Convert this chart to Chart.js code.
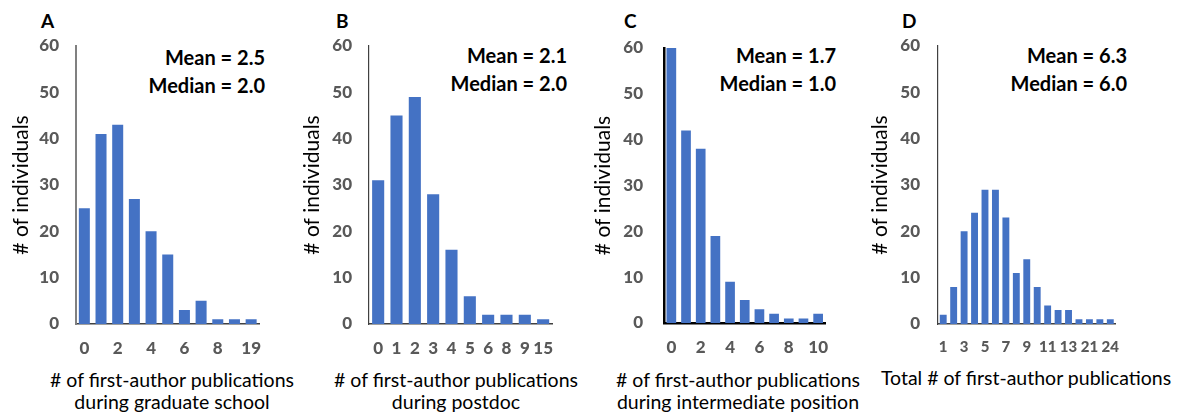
<!DOCTYPE html>
<html>
<head>
<meta charset="utf-8">
<script src="https://cdn.jsdelivr.net/npm/chart.js@4.4.1/dist/chart.umd.min.js"></script>
<style>
  body { margin: 0; width: 1178px; height: 415px; background: #fff; position: relative; overflow: hidden; font-family: Lato, sans-serif; }
  canvas { position: absolute; top: 0; }
  .letter { position: absolute; font-weight: bold; font-size: 19px; line-height: 20px; color: #000; }
  .stats { position: absolute; font-weight: bold; font-size: 20px; line-height: 28px; color: #000; text-align: right; white-space: nowrap; }
  .xtitle { position: absolute; font-size: 19.5px; line-height: 22px; color: #000; text-align: center; white-space: nowrap; transform: translateX(-50%); }
</style>
</head>
<body>

<div class="letter" style="left:41px;top:11px">A</div>
<div class="letter" style="left:336px;top:11px">B</div>
<div class="letter" style="left:624px;top:11px">C</div>
<div class="letter" style="left:902px;top:11px">D</div>

<div class="stats" style="right:913px;top:43px">Mean = 2.5<br>Median = 2.0</div>
<div class="stats" style="right:611px;top:41px">Mean = 2.1<br>Median = 2.0</div>
<div class="stats" style="right:342px;top:41px">Mean = 1.7<br>Median = 1.0</div>
<div class="stats" style="right:51px;top:41px">Mean = 6.3<br>Median = 6.0</div>

<div class="xtitle" style="left:172px;top:369px"># of first-author publications<br>during graduate school</div>
<div class="xtitle" style="left:456px;top:369px"># of first-author publications<br>during postdoc</div>
<div class="xtitle" style="left:738px;top:369px"># of first-author publications<br>during intermediate position</div>
<div class="xtitle" style="left:1026px;top:367px">Total # of first-author publications</div>

<canvas id="cA"></canvas>
<canvas id="cB"></canvas>
<canvas id="cC"></canvas>
<canvas id="cD"></canvas>

<script>
// publication counts (category labels) and number of individuals per count
var LABELS_A = ['0','1','2','3','4','5','6','7','8','9','19'];
var COUNTS_A = [25, 41, 43, 27, 20, 15, 3, 5, 1, 1, 1];

var LABELS_B = ['0','1','2','3','4','5','6','8','9','15'];
var COUNTS_B = [31, 45, 49, 28, 16, 6, 2, 2, 2, 1];

var LABELS_C = ['0','1','2','3','4','5','6','7','8','9','10'];
var COUNTS_C = [60, 42, 38, 19, 9, 5, 3, 2, 1, 1, 2];

var LABELS_D = ['1','2','3','4','5','6','7','8','9','10','11','12','13','15','21','22','24'];
var COUNTS_D = [2, 8, 20, 24, 29, 29, 23, 11, 14, 8, 4, 3, 3, 1, 1, 1, 1];

var Y_MAX = 60;
var BAR_COLOR = '#4472C4';
var TICK_COLOR = '#595959';

Chart.defaults.font.family = 'Lato, sans-serif';

function drawPanel(id, labels, counts, layout) {
  var canvas = document.getElementById(id);
  canvas.style.left = layout.left + 'px';
  canvas.width = layout.right - layout.left;
  canvas.height = 415;

  new Chart(canvas, {
    type: 'bar',
    data: {
      labels: labels,
      datasets: [{
        data: counts,
        backgroundColor: BAR_COLOR,
        categoryPercentage: 1,
        barPercentage: 0.66
      }]
    },
    options: {
      responsive: false,
      animation: false,
      devicePixelRatio: 1,
      layout: { padding: { top: layout.top, left: 0, right: 0, bottom: 0 } },
      plugins: { legend: { display: false }, tooltip: { enabled: false } },
      scales: {
        x: {
          grid: { display: false, drawTicks: false },
          border: { display: true, color: layout.xAxisColor, width: layout.xWidth },
          ticks: {
            autoSkip: false,
            maxRotation: 0,
            padding: 14,
            color: TICK_COLOR,
            font: { family: 'Lato', size: layout.xFont, weight: '900' },
            callback: function (v, i) { return i % layout.step === 0 ? this.getLabelForValue(v) : ''; }
          },
          afterFit: function (scale) { scale.height = 415 - layout.bottom; }
        },
        y: {
          min: 0,
          max: Y_MAX,
          grid: { display: false, drawTicks: false },
          border: { display: true, color: layout.yAxisColor, width: layout.yWidth },
          ticks: {
            stepSize: 10,
            padding: layout.tickPad,
            color: TICK_COLOR,
            font: { family: 'Lato', size: 17, weight: '900' }
          },
          title: {
            display: true,
            text: '# of individuals',
            color: '#000',
            font: { size: 21 },
            padding: { top: 9, bottom: 0 }
          },
          afterFit: function (scale) { scale.width = layout.axisX - layout.left; }
        }
      }
    }
  });
}

drawPanel('cA', LABELS_A, COUNTS_A, { left: 0,   right: 275,  axisX: 76,  top: 46, bottom: 324, step: 2, tickPad: 17, xFont: 17, xAxisColor: '#404040', yAxisColor: '#808080', xWidth: 1.5, yWidth: 2 });
drawPanel('cB', LABELS_B, COUNTS_B, { left: 291, right: 567,  axisX: 369, top: 46, bottom: 324, step: 1, tickPad: 17, xFont: 17, xAxisColor: '#404040', yAxisColor: '#404040', xWidth: 1.5, yWidth: 1.2 });
drawPanel('cC', LABELS_C, COUNTS_C, { left: 582, right: 842,  axisX: 664, top: 48, bottom: 323, step: 2, tickPad: 21, xFont: 17, xAxisColor: '#000', yAxisColor: '#000', xWidth: 2.5, yWidth: 2.5 });
drawPanel('cD', LABELS_D, COUNTS_D, { left: 859, right: 1133, axisX: 938, top: 46, bottom: 324, step: 2, tickPad: 18, xFont: 15, xAxisColor: '#404040', yAxisColor: '#404040', xWidth: 1.5, yWidth: 1.2 });
</script>
</body>
</html>
